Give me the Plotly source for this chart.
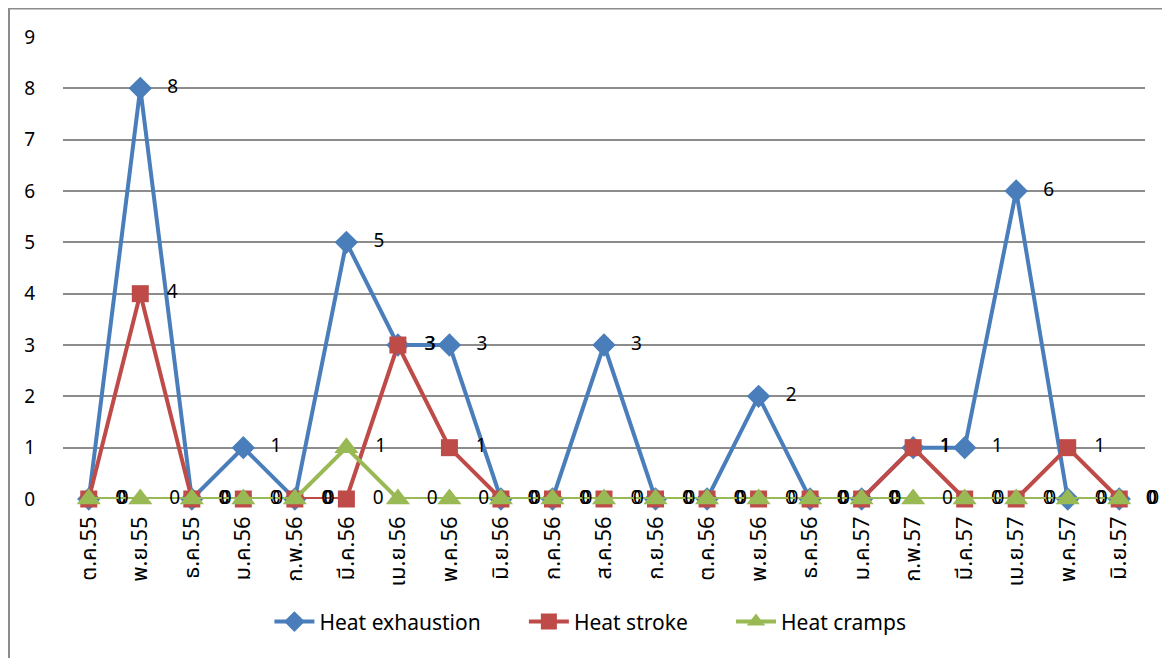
import plotly.graph_objects as go

months = ["ต.ค.55", "พ.ย.55", "ธ.ค.55", "ม.ค.56", "ก.พ.56", "มี.ค.56", "เม.ย.56",
          "พ.ค.56", "มิ.ย.56", "ก.ค.56", "ส.ค.56", "ก.ย.56", "ต.ค.56", "พ.ย.56",
          "ธ.ค.56", "ม.ค.57", "ก.พ.57", "มี.ค.57", "เม.ย.57", "พ.ค.57", "มิ.ย.57"]
heat_exhaustion = [0, 8, 0, 1, 0, 5, 3, 3, 0, 0, 3, 0, 0, 2, 0, 0, 1, 1, 6, 0, 0]
heat_stroke = [0, 4, 0, 0, 0, 0, 3, 1, 0, 0, 0, 0, 0, 0, 0, 0, 1, 0, 0, 1, 0]
heat_cramps = [0, 0, 0, 0, 0, 1, 0, 0, 0, 0, 0, 0, 0, 0, 0, 0, 0, 0, 0, 0, 0]
y_ticks = list(range(0, 10))

FONT = "Noto Sans, Noto Sans Thai, DejaVu Sans, sans-serif"
PAD = "\u00a0" * 7

series = [
    ("Heat exhaustion", heat_exhaustion, "#4A7EBB", "diamond", 18),
    ("Heat stroke", heat_stroke, "#BE4B48", "square", 17),
    ("Heat cramps", heat_cramps, "#98B954", "triangle-up", 21),
]

fig = go.Figure()
for name, vals, color, sym, size in series:
    fig.add_trace(go.Scatter(
        x=months, y=vals, name=name + PAD, mode="lines+markers+text",
        line=dict(color=color, width=4),
        marker=dict(symbol=sym, size=size, color=color),
        text=[f"   {v}" for v in vals], textposition="middle right",
        textfont=dict(size=19, color="black", family=FONT),
        cliponaxis=False,
    ))

W, H = 1162, 650
L, R, T, B = 55, 25, 29, 159
pw, ph = W - L - R, H - T - B

fig.update_layout(
    width=W, height=H,
    margin=dict(l=L, r=R, t=T, b=B),
    plot_bgcolor="white", paper_bgcolor="white",
    font=dict(family=FONT, size=18, color="black"),
    showlegend=True,
    legend=dict(orientation="h", x=0.505, xanchor="center", y=-0.266, yanchor="middle",
                font=dict(size=21), itemwidth=40, traceorder="normal"),
    xaxis=dict(type="category", range=[-0.5, 20.5], tickangle=-90, showgrid=False,
               showline=False, ticks="", tickfont=dict(size=22), zeroline=False,
               ticklabelstandoff=12),
    yaxis=dict(range=[0, 9], tickvals=y_ticks, showgrid=True, gridcolor="#8C8C8C",
               gridwidth=1.5, zeroline=False, showline=False, ticks="",
               tickfont=dict(size=19), ticklabelstandoff=27),
    shapes=[
        dict(type="line", xref="paper", yref="paper", x0=(0 - L) / pw, x1=(W - L) / pw,
             y0=(H - B - 0.5) / ph, y1=(H - B - 0.5) / ph, line=dict(color="#8C8C8C", width=2)),
        dict(type="line", xref="paper", yref="paper", x0=(1 - L) / pw, x1=(1 - L) / pw,
             y0=(H - B) / ph, y1=(H - B - H) / ph, line=dict(color="#8C8C8C", width=2)),
    ],
)

fig.write_html("out.html")
